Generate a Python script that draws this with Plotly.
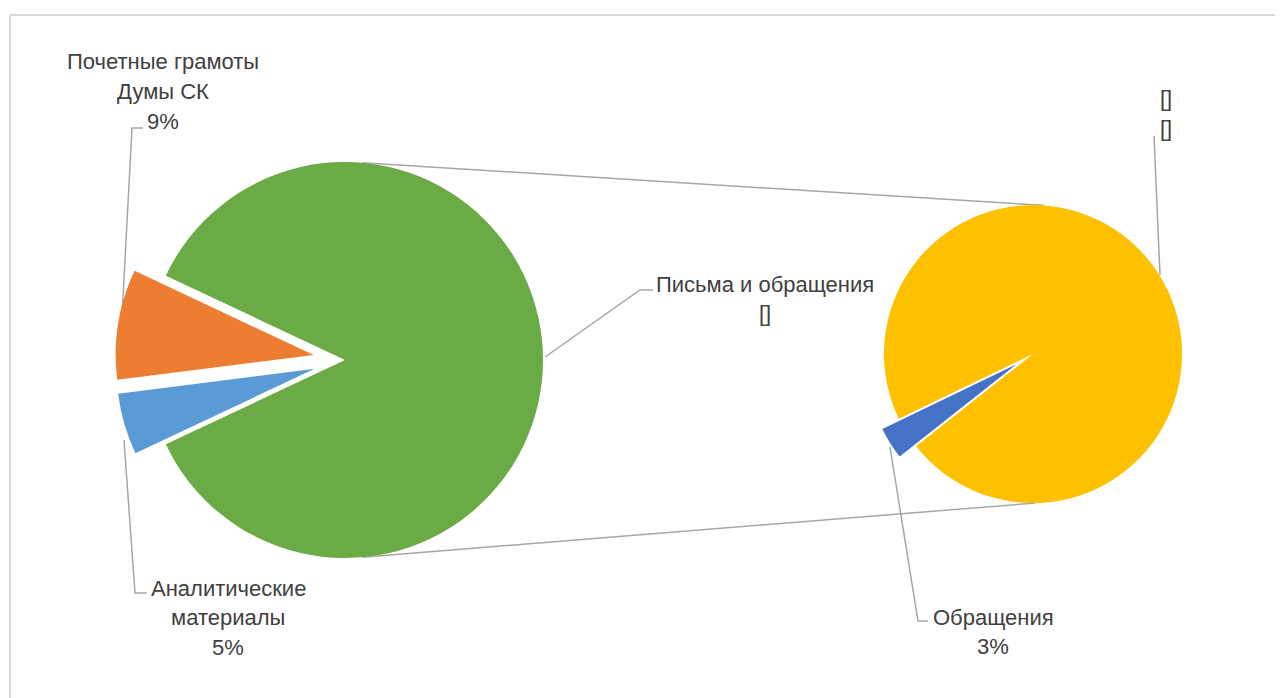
import math
import plotly.graph_objects as go

# ---- data ----
main_labels = ["Аналитические материалы", "Почетные грамоты Думы СК", "Письма и обращения"]
main_values = [5, 9, 86]
main_colors = ["#5B9BD5", "#ED7D31", "#6AAB45"]
main_pull = [0.16, 0.16, 0]

sec_labels = ["Обращения", "[]"]
sec_values = [3, 83]
sec_colors = ["#4472C4", "#FFC000"]
sec_pull = [0.13, 0]

W, H = 1283, 698
OFF = 8  # page body margin
FONT = "Liberation Sans"
TXT = "#404040"
LINE = "#A6A6A6"


def px(x):
    return (x - OFF) / W


def py(y):
    return 1 - (y - OFF) / H


# pie geometry (pixels, screen coords)
m_cx, m_cy, m_r = 345, 360, 198
s_cx, s_cy, s_r = 1033, 354, 149
m_half = m_r * (1 + max(main_pull))
s_half = s_r * (1 + max(sec_pull))

fig = go.Figure()
fig.add_trace(go.Pie(
    labels=main_labels, values=main_values, sort=False, direction="clockwise",
    rotation=-115.2, pull=main_pull, textinfo="none", hoverinfo="label+percent",
    marker=dict(colors=main_colors, line=dict(width=0)),
    domain=dict(x=[px(m_cx - m_half), px(m_cx + m_half)],
                y=[py(m_cy + m_half), py(m_cy - m_half)]),
    showlegend=False,
))
fig.add_trace(go.Pie(
    labels=sec_labels, values=sec_values, sort=False, direction="clockwise",
    rotation=-128.3, pull=sec_pull, textinfo="none", hoverinfo="label+percent",
    marker=dict(colors=sec_colors, line=dict(width=0)),
    domain=dict(x=[px(s_cx - s_half), px(s_cx + s_half)],
                y=[py(s_cy + s_half), py(s_cy - s_half)]),
    showlegend=False,
))


def on_circle(cx, cy, r, deg):
    a = math.radians(deg)
    return cx + r * math.cos(a), cy - r * math.sin(a)


shapes = []
# chart area border (top and left edges visible in the frame)
shapes.append(dict(type="line", xref="paper", yref="paper",
                   x0=px(10), x1=px(1283), y0=py(15), y1=py(15),
                   line=dict(color="#D9D9D9", width=2), layer="below"))
shapes.append(dict(type="line", xref="paper", yref="paper",
                   x0=px(10), x1=px(10), y0=py(15), y1=py(730),
                   line=dict(color="#D9D9D9", width=2), layer="below"))
# pie-of-pie connector lines
a1 = on_circle(m_cx, m_cy, m_r, 85)
b1 = on_circle(s_cx, s_cy, s_r, 86)
a2 = on_circle(m_cx, m_cy, m_r, -85)
b2 = on_circle(s_cx, s_cy, s_r, -89)
for (x0, y0), (x1, y1) in [(a1, b1), (a2, b2)]:
    shapes.append(dict(type="line", xref="paper", yref="paper",
                       x0=px(x0), y0=py(y0), x1=px(x1), y1=py(y1),
                       line=dict(color=LINE, width=1.5), layer="below"))


def leader(points):
    d = "M " + " L ".join(f"{px(x)},{py(y)}" for x, y in points)
    return dict(type="path", xref="paper", yref="paper", path=d,
                line=dict(color=LINE, width=1.5), layer="below")


shapes.append(leader([(121, 335), (132, 128), (143, 128)]))
shapes.append(leader([(124, 440), (135, 593), (147, 593)]))
shapes.append(leader([(545, 357), (640, 290), (653, 290)]))
shapes.append(leader([(1160, 275), (1154, 136)]))
shapes.append(leader([(890, 447), (918, 621), (928, 621)]))

# label blocks: centre x, first-line centre y, lines
label_blocks = [
    (163, 62, ["Почетные грамоты", "Думы СК", "9%"]),
    (765, 284, ["Письма и обращения", "[]"]),
    (1166, 99, ["[]", "[]"]),
    (228, 588, ["Аналитические", "материалы", "5%"]),
    (993, 617, ["Обращения", "3%"]),
]
annotations = []
for x, y, lines in label_blocks:
    for i, t in enumerate(lines):
        annotations.append(dict(x=px(x), y=py(y + 29.5 * i), xref="paper", yref="paper",
                                text=t, showarrow=False, xanchor="center",
                                yanchor="middle", align="center",
                                font=dict(family=FONT, size=22, color=TXT)))

fig.update_layout(
    width=W, height=H, margin=dict(l=0, r=0, t=0, b=0),
    paper_bgcolor="white", plot_bgcolor="white",
    shapes=shapes, annotations=annotations,
)

fig.write_html("out.html")
